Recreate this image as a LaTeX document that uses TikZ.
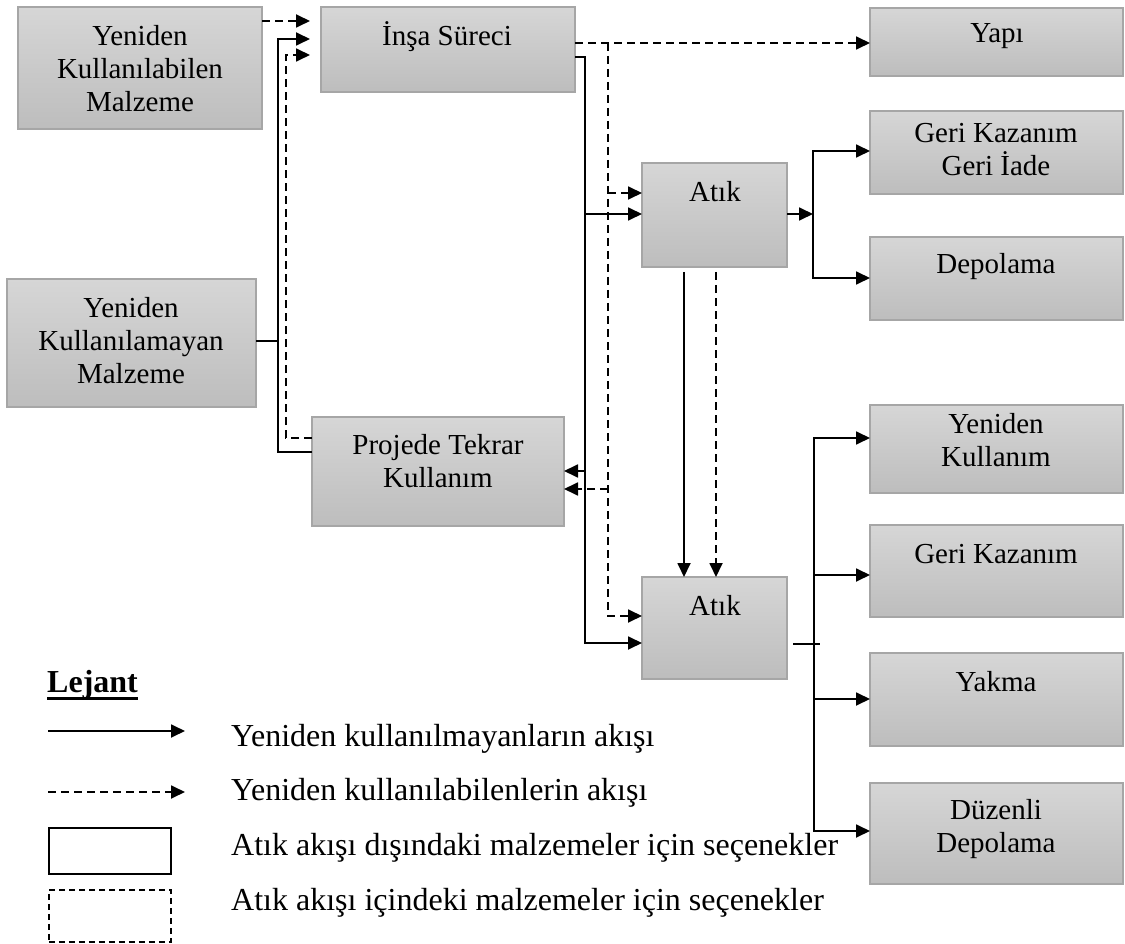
\documentclass[tikz,border=0pt]{standalone}
\usepackage{fontspec}
\setmainfont{Liberation Serif}
\usetikzlibrary{arrows.meta,calc}

\definecolor{boxtop}{HTML}{D6D6D6}
\definecolor{boxbot}{HTML}{BDBDBD}
\definecolor{boxline}{HTML}{A6A6A6}

\tikzset{
  stage/.style={draw=boxline, line width=1.2pt, top color=boxtop, bottom color=boxbot,
    anchor=north west, inner sep=0pt, outer sep=0pt},
  lbl/.style={align=center, font=\fontsize{29}{33}\selectfont, inner sep=0pt},
  tip/.style={-{Triangle[length=14pt,width=13pt]}},
  plain/.style={line width=1.8pt},
  reuse/.style={line width=1.8pt, dash pattern=on 8pt off 5pt},
  flow/.style={plain, tip},
  dflow/.style={reuse, tip},
  legtxt/.style={font=\fontsize{32}{36}\selectfont, anchor=base west, inner sep=0pt},
}

\begin{document}
\begin{tikzpicture}[x=1pt,y=-1pt]
\fill[white] (0,0) rectangle (1125,944);
\useasboundingbox (0,0) rectangle (1125,944);

% ---------- boxes ----------
\node[stage, minimum width=244pt, minimum height=122pt] (ykm)   at (18,7)   {};
\node[stage, minimum width=254pt, minimum height=85pt]  (insa)  at (321,7)  {};
\node[stage, minimum width=253pt, minimum height=68pt]  (yapi)  at (870,8)  {};
\node[stage, minimum width=253pt, minimum height=83pt]  (gkgi)  at (870,111) {};
\node[stage, minimum width=253pt, minimum height=83pt]  (depo)  at (870,237) {};
\node[stage, minimum width=145pt, minimum height=104pt] (atik1) at (642,163) {};
\node[stage, minimum width=249pt, minimum height=128pt] (ykl)   at (7,279)  {};
\node[stage, minimum width=252pt, minimum height=109pt] (proj)  at (312,417) {};
\node[stage, minimum width=145pt, minimum height=102pt] (atik2) at (642,577) {};
\node[stage, minimum width=253pt, minimum height=88pt]  (yk)    at (870,405) {};
\node[stage, minimum width=253pt, minimum height=92pt]  (gk)    at (870,525) {};
\node[stage, minimum width=253pt, minimum height=93pt]  (yakma) at (870,653) {};
\node[stage, minimum width=253pt, minimum height=101pt] (duz)   at (870,783) {};

% ---------- box labels ----------
\node[lbl] (ykmT)   at (140,69)  {Yeniden\\Kullanılabilen\\Malzeme};
\node[lbl, anchor=base] (insaT) at (447,46) {İnşa Süreci};
\node[lbl, anchor=base] (yapiT) at (997,43) {Yapı};
\node[lbl] (gkgiT)  at (996,150) {Geri Kazanım\\Geri İade};
\node[lbl, anchor=base] (depoT) at (996,274) {Depolama};
\node[lbl, anchor=base] (atik1T) at (715,202) {Atık};
\node[lbl] (yklT)   at (131,341) {Yeniden\\Kullanılamayan\\Malzeme};
\node[lbl] (projT)  at (438,461) {Projede Tekrar\\Kullanım};
\node[lbl, anchor=base] (atik2T) at (715,615) {Atık};
\node[lbl] (ykT)    at (996,440) {Yeniden\\Kullanım};
\node[lbl, anchor=base] (gkT) at (996,563) {Geri Kazanım};
\node[lbl, anchor=base] (yakmaT) at (996,691) {Yakma};
\node[lbl] (duzT)   at (996,829) {Düzenli\\Depolama};

% ---------- inputs of the construction process ----------
\draw[dflow, shorten >=11pt] (ykm.east |- 0,21) -- (insa.west |- 0,21);
\draw[flow, shorten >=11pt] (proj.west |- 0,452) -| (278,39) -- (insa.west |- 0,39);
\draw[plain] (ykl.east |- 0,341) -- (278,341);
\draw[dflow, shorten >=11pt] (proj.west |- 0,438) -| (286,55) -- (insa.west |- 0,55);

% ---------- reusable stream ----------
\draw[dflow] (insa.east |- 0,43) -- (yapi.west |- 0,43);
\draw[dflow] (608,43) |- (atik2.west |- 0,616);
\draw[dflow] (608,193) -- (atik1.west |- 0,193);
\draw[dflow] (608,489) -- (proj.east |- 0,489);

% ---------- non-reusable stream ----------
\draw[flow] (insa.east |- 0,57) -| (585,643) -- (atik2.west |- 0,643);
\draw[flow] (585,214) -- (atik1.west |- 0,214);
\draw[flow] (585,471) -- (proj.east |- 0,471);

% ---------- first waste box ----------
\draw[flow] (atik1.east |- 0,214) -- (813,214);
\draw[flow] (813,214) |- (gkgi.west |- 0,151);
\draw[flow] (813,214) |- (depo.west |- 0,278);
\draw[flow, shorten <=5pt] (684,0 |- atik1.south) -- (684,0 |- atik2.north);
\draw[dflow, shorten <=5pt] (716,0 |- atik1.south) -- (716,0 |- atik2.north);

% ---------- second waste box ----------
\draw[plain, shorten <=6pt] (atik2.east |- 0,644) -- (820,644);
\draw[flow] (814,644) |- (yk.west |- 0,438);
\draw[flow] (814,644) |- (gk.west |- 0,575);
\draw[flow] (814,644) |- (yakma.west |- 0,699);
\draw[flow] (814,644) |- (duz.west |- 0,831);

% ---------- legend ----------
\node[font=\bfseries\fontsize{32}{36}\selectfont, anchor=base west, inner sep=0pt] (lejant) at (47,692) {Lejant};
\draw[line width=3pt] ($(lejant.base west)+(0,6)$) -- ($(lejant.base east)+(0,6)$);

\coordinate (s1) at (48,731);  \coordinate (s2) at (185,731);
\draw[flow] (s1) -- (s2);
\coordinate (d1) at (48,792);  \coordinate (d2) at (185,792);
\draw[dflow] (d1) -- (d2);
\node[draw, line width=2pt, minimum width=122pt, minimum height=46pt,
      anchor=north west, inner sep=0pt] (legsolid) at (48,827) {};
\node[draw, line width=1.6pt, dash pattern=on 6pt off 4pt, minimum width=122pt, minimum height=52pt,
      anchor=north west, inner sep=0pt] (legdash) at (48,889) {};

\node[legtxt] (t1) at (231,746) {Yeniden kullanılmayanların akışı};
\node[legtxt] (t2) at (231,800) {Yeniden kullanılabilenlerin akışı};
\node[legtxt] (t3) at (231,855) {Atık akışı dışındaki malzemeler için seçenekler};
\node[legtxt] (t4) at (231,910) {Atık akışı içindeki malzemeler için seçenekler};
\end{tikzpicture}
\end{document}
